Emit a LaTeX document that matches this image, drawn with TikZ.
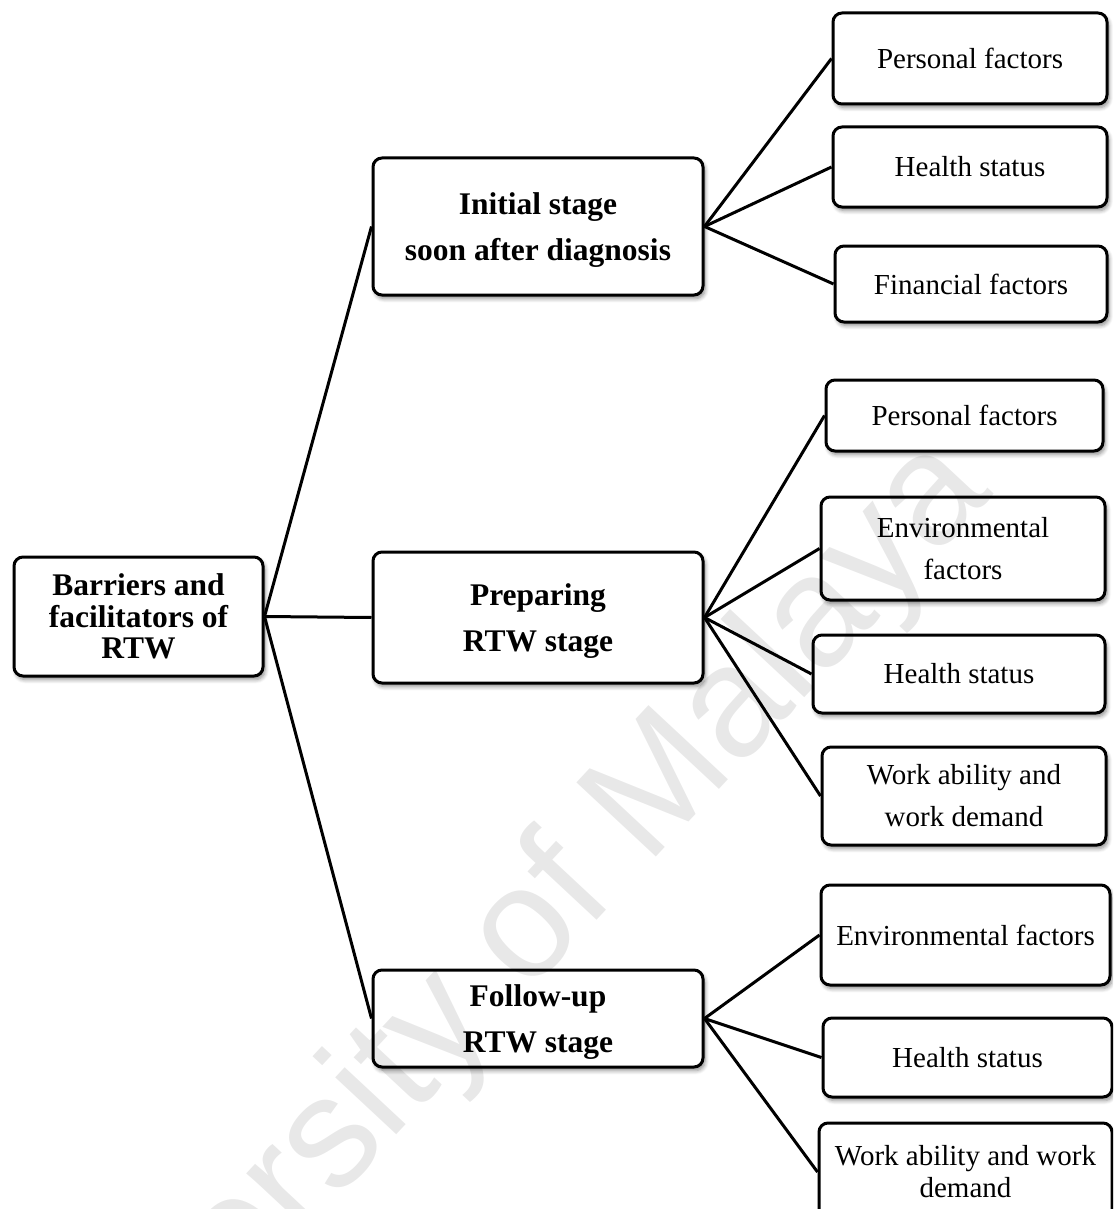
\documentclass[tikz,border=0pt]{standalone}
\usepackage{fontspec}
\setmainfont{Liberation Serif}
\newfontfamily\wmfont{Liberation Sans}
\usetikzlibrary{shadows.blur}

\begin{document}
\begin{tikzpicture}[x=1pt,y=-1pt,
  box/.style={draw, line width=3pt, rounded corners=9pt, fill=white,
    align=center, inner sep=0pt,
    blur shadow={shadow xshift=2pt, shadow yshift=-3.5pt,
      shadow blur steps=6, shadow blur radius=4pt, shadow opacity=45}},
  rootbox/.style={box, font=\fontsize{31.5}{31.5}\selectfont\bfseries},
  stagebox/.style={box, text depth=0pt, font=\fontsize{31.5}{46}\selectfont\bfseries},
  leafbox/.style={box, font=\fontsize{29}{42}\selectfont},
  link/.style={line width=3pt}]

\useasboundingbox (0,0) rectangle (1113,1209);
\clip (0,0) rectangle (1113,1209);

% root
\node[rootbox, minimum width=249pt, minimum height=119pt] (root) at (138.5,616.5)
  {Barriers and\\facilitators of\\RTW};

% stages
\node[stagebox, minimum width=330pt, minimum height=137pt] (init) at (538,226.5)
  {Initial stage\\soon after diagnosis};
\node[stagebox, minimum width=330pt, minimum height=131pt] (prep) at (538,617.5)
  {Preparing\\RTW stage};
\node[stagebox, minimum width=330pt, minimum height=97pt] (foll) at (538,1018.5)
  {Follow-up\\RTW stage};

% factors of the initial stage
\node[leafbox, minimum width=274pt, minimum height=91pt] (p1) at (970,58.5) {Personal factors};
\node[leafbox, minimum width=274pt, minimum height=80pt] (h1) at (970,167) {Health status};
\node[leafbox, minimum width=272pt, minimum height=76pt] (f1) at (971,284) {Financial factors};

% factors of the preparing stage
\node[leafbox, minimum width=277pt, minimum height=71pt] (p2) at (964.5,415.5) {Personal factors};
\node[leafbox, minimum width=284pt, minimum height=103pt] (e2) at (963,548.5) {Environmental\\factors};
\node[leafbox, minimum width=292pt, minimum height=78pt] (h2) at (959,674) {Health status};
\node[leafbox, minimum width=284pt, minimum height=98pt] (w2) at (964,796) {Work ability and\\work demand};

% factors of the follow-up stage
\node[leafbox, minimum width=289pt, minimum height=100pt] (e3) at (965.5,935) {Environmental factors};
\node[leafbox, minimum width=289pt, minimum height=79pt] (h3) at (967.5,1057.5) {Health status};
\node[leafbox, minimum width=293pt, minimum height=98pt,
  font=\fontsize{29}{32}\selectfont] (w3) at (965.5,1172) {Work ability and work\\demand};

% connectors
\draw[link] (root.east) -- (init.west);
\draw[link] (root.east) -- (prep.west);
\draw[link] (root.east) -- (foll.west);

\draw[link] (init.east) -- (p1.west);
\draw[link] (init.east) -- (h1.west);
\draw[link] (init.east) -- (f1.west);

\draw[link] (prep.east) -- (p2.west);
\draw[link] (prep.east) -- (e2.west);
\draw[link] (prep.east) -- (h2.west);
\draw[link] (prep.east) -- (w2.west);

\draw[link] (foll.east) -- (e3.west);
\draw[link] (foll.east) -- (h3.west);
\draw[link] (foll.east) -- (w3.west);

% faint diagonal watermark over everything
\node[rotate=47, font=\wmfont\fontsize{158}{158}\selectfont, text=black,
  text opacity=0.09, inner sep=0pt] (wm) at (480,986) {University of Malaya};
\end{tikzpicture}
\end{document}
